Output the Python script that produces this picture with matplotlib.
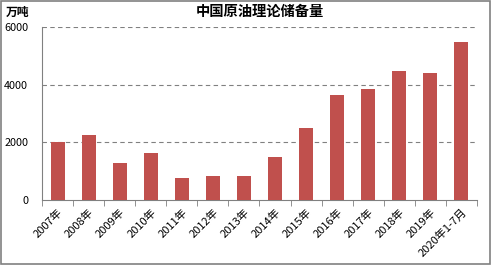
import numpy as np
import matplotlib
matplotlib.use("Agg")
import matplotlib.pyplot as plt
from matplotlib.patches import Rectangle

plt.rcParams['font.family'] = ['Noto Sans CJK SC', 'DejaVu Sans']

# Data
years = ["2007年", "2008年", "2009年", "2010年", "2011年", "2012年", "2013年",
         "2014年", "2015年", "2016年", "2017年", "2018年", "2019年", "2020年1-7月"]
reserve = [2000, 2250, 1300, 1630, 750, 820, 820,
           1500, 2510, 3660, 3850, 4480, 4400, 5480]
yticks = [0, 2000, 4000, 6000]

fig = plt.figure(figsize=(4.91, 2.65), dpi=100)
ax = fig.add_axes([0.0855, 0.245, 0.886, 0.653])

x = np.arange(len(years))
ax.bar(x, reserve, width=0.45, color="#C0504D", zorder=3)

ax.set_xlim(-0.5, len(years) - 0.5)
ax.set_ylim(0, 6000)
ax.set_yticks(yticks)
ax.set_yticklabels([str(v) for v in yticks], fontsize=7.8)
for v in yticks[1:]:
    ax.axhline(v, color="#808080", lw=0.8, ls=(0, (4, 3)), zorder=1)

ax.set_xticks(x)
ax.set_xticklabels(years, rotation=45, ha="right", rotation_mode="anchor", fontsize=8)
ax.set_xticks(np.arange(len(years) + 1) - 0.5, minor=True)
ax.tick_params(axis="x", which="major", length=0, pad=5)
ax.tick_params(axis="x", which="minor", length=4, color="#808080")
ax.tick_params(axis="y", length=0, pad=10)

for s in ["top", "right"]:
    ax.spines[s].set_visible(False)
ax.spines["left"].set_color("#808080")
ax.spines["bottom"].set_color("#808080")

fig.text(0.53, 0.955, "中国原油理论储备量", ha="center", va="center",
         fontsize=10.3, fontweight="bold")
fig.text(0.012, 0.955, "万吨", ha="left", va="center", fontsize=8.5, fontweight="bold")

# outer frame
fig.patches.append(Rectangle((0.002, 0.004), 0.996, 0.992, transform=fig.transFigure,
                             fill=False, edgecolor="#808080", lw=1.2))

fig.savefig("out.png", dpi=100)
